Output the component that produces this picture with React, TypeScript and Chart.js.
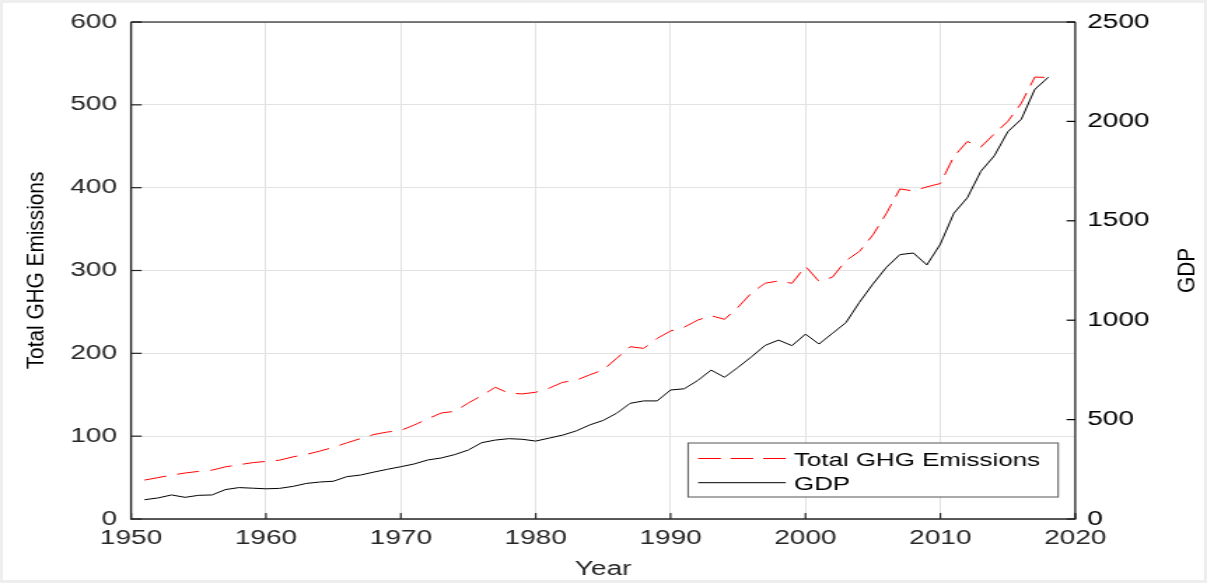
import React, { useEffect, useRef } from 'react';
import { Chart, registerables } from 'chart.js';

Chart.register(...registerables);

// ---- data ----
const years = [
  1951, 1952, 1953, 1954, 1955, 1956, 1957, 1958, 1959, 1960,
  1961, 1962, 1963, 1964, 1965, 1966, 1967, 1968, 1969, 1970,
  1971, 1972, 1973, 1974, 1975, 1976, 1977, 1978, 1979, 1980,
  1981, 1982, 1983, 1984, 1985, 1986, 1987, 1988, 1989, 1990,
  1991, 1992, 1993, 1994, 1995, 1996, 1997, 1998, 1999, 2000,
  2001, 2002, 2003, 2004, 2005, 2006, 2007, 2008, 2009, 2010,
  2011, 2012, 2013, 2014, 2015, 2016, 2017, 2018,
];

const ghgEmissions = [
  47, 50, 53, 55.5, 57.5, 59, 63, 65.5, 68, 69.5,
  71, 75, 78, 82, 86.5, 92, 97, 102, 105, 107,
  113.5, 121, 128, 130, 140, 149, 159, 152, 151, 153,
  158, 165, 167.5, 174, 180, 194, 208, 206, 218, 227,
  231.5, 240, 245.5, 241, 255.7, 273, 284.6, 287.4, 284.6, 305,
  287, 292, 312, 323, 343, 369, 398.5, 396, 401, 405,
  437.6, 455.7, 449, 465, 480, 502, 533.5, 533,
];

const gdp = [
  97, 106, 121, 109, 119, 121, 148, 158, 155, 152,
  154, 164, 179, 186, 190, 213, 221, 236, 250, 263,
  277, 297, 307, 324, 347, 384, 397, 404, 401, 392,
  407, 422, 443, 473, 496, 532, 582, 594, 594, 649,
  655, 696, 749, 713, 763, 816, 873, 900, 872, 930,
  880, 934, 988, 1090, 1182, 1266, 1330, 1338, 1278, 1383,
  1538, 1616, 1749, 1827, 1948, 2011, 2161, 2222,
];

const xTickStep = 10;
const leftTickStep = 100;
const rightTickStep = 500;

// ---- layout (canvas is drawn narrow then stretched horizontally) ----
const W = 862;
const H = 583;
const FONT = "'Liberation Sans', Arial, Helvetica, sans-serif";
const AXIS_COLOR = '#262626';

const matlabPlugin = {
  id: 'matlabLook',
  afterDraw(chart: any) {
    const { ctx, chartArea } = chart;
    const { left, right, top, bottom } = chartArea;
    const sx = chart.scales.x;
    const sy = chart.scales.y;
    const sy2 = chart.scales.y2;
    ctx.save();
    ctx.strokeStyle = AXIS_COLOR;
    ctx.setLineDash([]);

    // ticks
    ctx.lineWidth = 1.2;
    sy.ticks.forEach((t: any) => {
      const p = sy.getPixelForValue(t.value);
      ctx.beginPath();
      ctx.moveTo(left, p);
      ctx.lineTo(left + 7.6, p);
      ctx.stroke();
    });
    ctx.strokeStyle = '#000';
    sy2.ticks.forEach((t: any) => {
      const p = sy2.getPixelForValue(t.value);
      ctx.beginPath();
      ctx.moveTo(right, p);
      ctx.lineTo(right - 6.2, p);
      ctx.stroke();
    });
    ctx.strokeStyle = AXIS_COLOR;
    ctx.lineWidth = 1.2;
    sx.ticks.forEach((t: any) => {
      const p = sx.getPixelForValue(t.value);
      ctx.beginPath();
      ctx.moveTo(p, bottom);
      ctx.lineTo(p, bottom - 6);
      ctx.stroke();
    });

    // box
    ctx.lineWidth = 1.1;
    ctx.strokeStyle = '#000';
    ctx.beginPath();
    ctx.moveTo(left, top);
    ctx.lineTo(right, top);
    ctx.stroke();
    ctx.beginPath();
    ctx.moveTo(right, top);
    ctx.lineTo(right, bottom);
    ctx.stroke();
    ctx.strokeStyle = AXIS_COLOR;
    ctx.lineWidth = 1.6;
    ctx.beginPath();
    ctx.moveTo(left, bottom);
    ctx.lineTo(right + 0.5, bottom);
    ctx.stroke();
    ctx.lineWidth = 1.4;
    ctx.beginPath();
    ctx.moveTo(left, top);
    ctx.lineTo(left, bottom + 0.8);
    ctx.stroke();

    // rotated axis titles (compensate horizontal stretch)
    const drawVTitle = (text: string, x: number, y: number) => {
      ctx.save();
      ctx.translate(x, y);
      ctx.rotate(-Math.PI / 2);
      ctx.scale(1, 0.82);
      ctx.font = `20.8px ${FONT}`;
      ctx.fillStyle = '#000';
      ctx.textAlign = 'center';
      ctx.textBaseline = 'alphabetic';
      ctx.fillText(text, 0, 0);
      ctx.restore();
    };
    const midY = (top + bottom) / 2;
    drawVTitle(chart.options.scales.y.customTitle, 30.5, midY);
    drawVTitle(chart.options.scales.y2.customTitle, 853.4, midY);

    // legend
    const lx0 = 491.4, lx1 = 755.7, ly0 = 443, ly1 = 497;
    ctx.fillStyle = '#fff';
    ctx.fillRect(lx0, ly0, lx1 - lx0, ly1 - ly0);
    ctx.strokeStyle = '#555';
    ctx.lineWidth = 1;
    ctx.strokeRect(lx0, ly0, lx1 - lx0, ly1 - ly0);
    const rows = [
      { ds: chart.data.datasets[0], y: 458.5, base: 465.5 },
      { ds: chart.data.datasets[1], y: 482.7, base: 489.6 },
    ];
    rows.forEach((r) => {
      ctx.save();
      ctx.strokeStyle = r.ds.borderColor;
      ctx.lineWidth = 1;
      ctx.setLineDash(r.ds.borderDash ? [16.2, 7] : []);
      ctx.beginPath();
      ctx.moveTo(498.6, r.y);
      ctx.lineTo(561.2, r.y);
      ctx.stroke();
      ctx.restore();
      ctx.fillStyle = '#000';
      ctx.font = `18.5px ${FONT}`;
      ctx.textAlign = 'left';
      ctx.textBaseline = 'alphabetic';
      ctx.fillText(r.ds.label, 567, r.base);
    });

    ctx.restore();
  },
};

export default function App() {
  const canvasRef = useRef<HTMLCanvasElement>(null);

  useEffect(() => {
    const canvas = canvasRef.current;
    if (!canvas) return;
    const ghgPoints = years.map((yr, i) => ({ x: yr, y: ghgEmissions[i] }));
    const gdpPoints = years.map((yr, i) => ({ x: yr, y: gdp[i] }));

    const tickFont = { family: FONT, size: 20 };

    const chart = new Chart(canvas, {
      type: 'line',
      data: {
        datasets: [
          {
            label: 'Total GHG Emissions',
            data: ghgPoints,
            yAxisID: 'y',
            borderColor: '#ff0000',
            borderWidth: 1,
            borderDash: [16, 8],
            pointRadius: 0,
            tension: 0,
            fill: false,
            order: 1,
          },
          {
            label: 'GDP',
            data: gdpPoints,
            yAxisID: 'y2',
            borderColor: '#000000',
            borderWidth: 1,
            pointRadius: 0,
            tension: 0,
            fill: false,
            order: 0,
          },
        ],
      },
      options: {
        responsive: false,
        animation: false,
        devicePixelRatio: 1,
        layout: { padding: { top: 22, left: 0, right: 0, bottom: 0 } },
        plugins: {
          legend: { display: false },
          tooltip: { enabled: false },
        },
        scales: {
          x: {
            type: 'linear',
            position: 'bottom',
            min: 1950,
            max: 2020,
            afterFit: (s: any) => { s.height = 64; },
            ticks: {
              stepSize: xTickStep,
              callback: (v: any) => String(v),
              font: tickFont,
              color: AXIS_COLOR,
              padding: 7,
              maxRotation: 0,
              autoSkip: false,
            },
            grid: { color: '#e2e2e2', lineWidth: 1, drawTicks: false },
            border: { display: false },
            title: {
              display: true,
              text: 'Year',
              font: { family: FONT, size: 20 },
              color: AXIS_COLOR,
              padding: { top: 0, bottom: 2 },
            },
          },
          y: {
            type: 'linear',
            position: 'left',
            min: 0,
            max: 600,
            customTitle: 'Total GHG Emissions',
            afterFit: (s: any) => { s.width = 93.6; },
            ticks: {
              stepSize: leftTickStep,
              callback: (v: any) => String(v),
              font: tickFont,
              color: AXIS_COLOR,
              padding: 10,
            },
            grid: { color: '#e2e2e2', lineWidth: 1, drawTicks: false },
            border: { display: false },
          },
          y2: {
            type: 'linear',
            position: 'right',
            min: 0,
            max: 2500,
            customTitle: 'GDP',
            afterFit: (s: any) => { s.width = W - 767.9; },
            ticks: {
              stepSize: rightTickStep,
              callback: (v: any) => String(v),
              font: tickFont,
              color: '#000',
              padding: 8.5,
            },
            grid: { display: false, drawTicks: false },
            border: { display: false },
          },
        } as any,
      },
      plugins: [matlabPlugin],
    } as any);

    return () => chart.destroy();
  }, []);

  return (
    <div style={{ position: 'fixed', left: 0, top: 0, width: 1207, height: H, background: '#fff', overflow: 'hidden' }}>
      <div
        style={{
          position: 'absolute',
          left: 0,
          top: 0,
          width: W,
          height: H,
          transform: `scaleX(${1207 / W})`,
          transformOrigin: '0 0',
        }}
      >
        <canvas ref={canvasRef} width={W} height={H} style={{ display: 'block' }} />
      </div>
      <div
        style={{
          position: 'absolute',
          left: 0,
          top: 0,
          width: 1207,
          height: H,
          boxSizing: 'border-box',
          border: '3px solid #eeeeee',
          pointerEvents: 'none',
        }}
      />
    </div>
  );
}
